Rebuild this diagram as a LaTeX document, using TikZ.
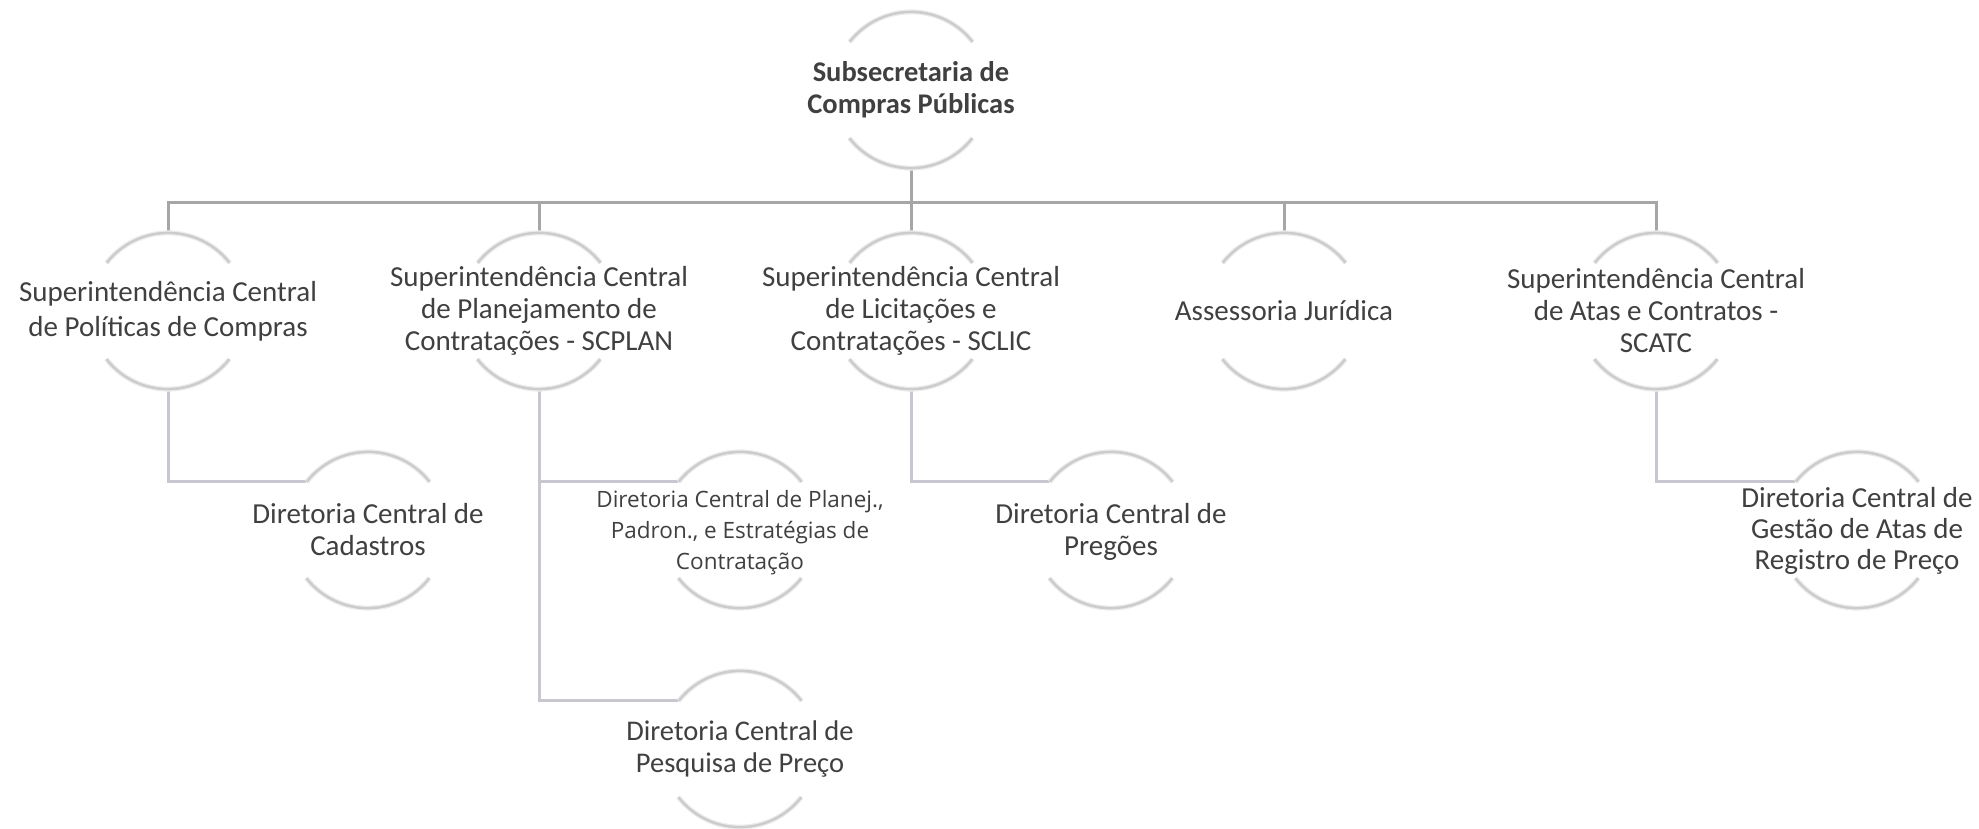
\documentclass[tikz,border=0pt]{standalone}
\usepackage{fontspec}
\setmainfont{Carlito}
\newfontfamily\smallsans{Open Sans}
\definecolor{txtc}{HTML}{404040}
\definecolor{barc}{HTML}{A6A6A6}
\definecolor{subc}{HTML}{C6C7CF}
\definecolor{arcc}{HTML}{CCCCCC}
\definecolor{arch}{HTML}{EDEDED}
\begin{document}
\begin{tikzpicture}[x=1pt,y=1pt,
  ring/.style={circle,minimum size=156pt,inner sep=0pt,draw=none},
  lab/.style={align=center,text=txtc,inner sep=0pt},
  big/.style={font=\fontsize{29}{35}\selectfont},
  bigt/.style={font=\fontsize{29}{32}\selectfont},
  bar/.style={draw=barc,line width=3pt},
  sub/.style={draw=subc,line width=3pt},
  arcglow/.style={draw=arch,line width=5pt},
  arcline/.style={draw=arcc,line width=2.5pt}]
\fill[white] (0,0) rectangle (1979,-829);
\useasboundingbox (0,0) rectangle (1979,-829);
% rings
\node[ring] (top) at (911,-90) {};
\node[ring] (la) at (168,-311) {};
\node[ring] (lb) at (539,-311) {};
\node[ring] (lc) at (911,-311) {};
\node[ring] (ld) at (1284,-311) {};
\node[ring] (le) at (1656,-311) {};
\node[ring] (c1) at (368,-530) {};
\node[ring] (c2) at (740,-530) {};
\node[ring] (c3) at (740,-749) {};
\node[ring] (c4) at (1111,-530) {};
\node[ring] (c5) at (1857,-530) {};
% connectors
\coordinate (bar) at (911,-203);
\draw[bar] (top.south) -- (lc.north);
\draw[bar] (la.north) |- (bar) -| (le.north);
\draw[bar] (lb.north) -- (lb.north |- bar);
\draw[bar] (ld.north) -- (ld.north |- bar);
\draw[sub] (la.south) |- (c1.142);
\draw[sub] (lb.south) |- (c3.142);
\draw[sub] (lb.south |- c2.142) -- (c2.142);
\draw[sub] (lc.south) |- (c4.142);
\draw[sub] (le.south) |- (c5.142);
% arcs
\foreach \n in {top,la,lb,lc,ld,le,c1,c2,c3,c4,c5}{
  \draw[arcglow] (\n.38) arc[start angle=38,end angle=142,radius=78pt];
  \draw[arcglow] (\n.218) arc[start angle=218,end angle=322,radius=78pt];
  \draw[arcline] (\n.38) arc[start angle=38,end angle=142,radius=78pt];
  \draw[arcline] (\n.218) arc[start angle=218,end angle=322,radius=78pt];
}
% labels
\node[lab,font=\fontsize{28.5}{32}\selectfont\bfseries] (topT) at (top) {Subsecretaria de\\Compras Públicas};
\node[lab,big] (laT) at (la) {Superintendência Central\\de Políticas de Compras};
\node[lab,bigt] (lbT) at (lb) {Superintendência Central\\de Planejamento de\\Contratações - SCPLAN};
\node[lab,bigt] (lcT) at (lc) {Superintendência Central\\de Licitações e\\Contratações - SCLIC};
\node[lab,big] (ldT) at (ld) {Assessoria Jurídica};
\node[lab,bigt] (leT) at (le) {Superintendência Central\\de Atas e Contratos -\\SCATC};
\node[lab,bigt] (c1T) at (c1) {Diretoria Central de\\Cadastros};
\node[lab,font=\smallsans\fontsize{22.5}{31}\selectfont] (c2T) at ([yshift=-3pt]c2) {Diretoria Central de Planej.,\\Padron., e Estratégias de\\Contratação};
\node[lab,font=\fontsize{28.5}{32}\selectfont] (c3T) at (c3) {Diretoria Central de\\Pesquisa de Preço};
\node[lab,bigt] (c4T) at ([yshift=-2pt]c4) {Diretoria Central de\\Pregões};
\node[lab,font=\fontsize{29}{31}\selectfont] (c5T) at ([yshift=-1pt]c5) {Diretoria Central de\\Gestão de Atas de\\Registro de Preço};
\end{tikzpicture}
\end{document}
